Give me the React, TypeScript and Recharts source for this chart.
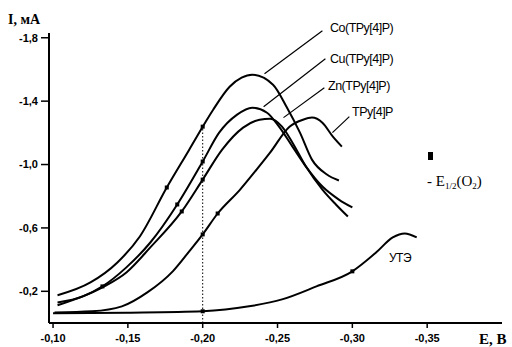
import React from "react";
import { LineChart, Line, XAxis, YAxis, ReferenceLine } from "recharts";

// potential E, V (negative) and current I, mA (negative)
const coE = [-0.103, -0.125, -0.143, -0.158, -0.176, -0.191, -0.2, -0.207, -0.218, -0.226, -0.233, -0.247, -0.256, -0.265, -0.273, -0.283, -0.291];
const coI = [-0.175, -0.256, -0.382, -0.546, -0.855, -1.094, -1.239, -1.346, -1.491, -1.548, -1.567, -1.504, -1.365, -1.201, -1.031, -0.937, -0.899];
const coMarks = [-0.176, -0.2];

const cuE = [-0.103, -0.12, -0.133, -0.149, -0.165, -0.183, -0.2, -0.211, -0.223, -0.233, -0.243, -0.251, -0.26, -0.269, -0.28, -0.291, -0.3];
const cuI = [-0.13, -0.168, -0.231, -0.351, -0.508, -0.748, -1.019, -1.201, -1.315, -1.359, -1.327, -1.239, -1.113, -0.987, -0.861, -0.779, -0.729];
const cuMarks = [-0.133, -0.183, -0.2];

const znE = [-0.103, -0.133, -0.149, -0.165, -0.186, -0.2, -0.213, -0.227, -0.238, -0.245, -0.253, -0.26, -0.269, -0.28, -0.289, -0.297];
const znI = [-0.112, -0.225, -0.319, -0.477, -0.704, -0.905, -1.094, -1.233, -1.283, -1.289, -1.239, -1.138, -0.987, -0.842, -0.748, -0.672];
const znMarks = [-0.186, -0.2];

const tpyE = [-0.101, -0.126, -0.146, -0.163, -0.18, -0.191, -0.2, -0.21, -0.225, -0.236, -0.245, -0.258, -0.267, -0.273, -0.28, -0.287, -0.293];
const tpyI = [-0.067, -0.074, -0.105, -0.193, -0.326, -0.452, -0.559, -0.691, -0.842, -0.968, -1.075, -1.239, -1.283, -1.296, -1.264, -1.176, -1.113];
const tpyMarks = [-0.2, -0.21];

const uteE = [-0.1, -0.15, -0.2, -0.231, -0.253, -0.276, -0.3, -0.316, -0.327, -0.335, -0.343];
const uteI = [-0.061, -0.065, -0.074, -0.105, -0.149, -0.231, -0.326, -0.446, -0.54, -0.565, -0.54];
const uteMarks = [-0.2, -0.3];

const eTicks = [-0.1, -0.15, -0.2, -0.25, -0.3, -0.35];
const iTicks = [-1.8, -1.4, -1.0, -0.6, -0.2];

const zip = (e: number[], i: number[]) => e.map((v, k) => ({ e: v, i: i[k] }));

const renderDot = (marks: number[]) => (props: any) => {
  const { cx, cy, payload, index } = props;
  if (!marks.includes(payload.e)) return <g key={"d" + index} />;
  return <rect key={"d" + index} x={cx - 2} y={cy - 2} width={4} height={4} fill="#000" />;
};

const tickFont = { fill: "#000", fontSize: 11, fontWeight: 700, fontFamily: "Liberation Sans, Arial" };
const labelFont = { fontFamily: "Liberation Sans, Arial", fontSize: 12.5, letterSpacing: -0.5, fill: "#000" };
const serif = { fontFamily: "Liberation Serif, Times New Roman", fill: "#000" };

export default function App() {
  const series = [
    { data: zip(coE, coI), marks: coMarks },
    { data: zip(cuE, cuI), marks: cuMarks },
    { data: zip(znE, znI), marks: znMarks },
    { data: zip(tpyE, tpyI), marks: tpyMarks },
    { data: zip(uteE, uteI), marks: uteMarks },
  ];

  return (
    <div style={{ position: "absolute", left: 0, top: 0, width: 512, height: 347, background: "#fff" }}>
      <LineChart width={512} height={347} margin={{ top: 33, right: 10, bottom: 0, left: 0 }}>
        <XAxis
          type="number"
          dataKey="e"
          domain={[-0.4, -0.0973]}
          reversed
          allowDataOverflow
          ticks={eTicks}
          tickFormatter={(v: number) => v.toFixed(2).replace(".", ",")}
          axisLine={{ stroke: "#000", strokeWidth: 2 }}
          tickLine={{ stroke: "#000", strokeWidth: 1.5 }}
          tickSize={5}
          tickMargin={6}
          tick={tickFont}
          height={24}
        />
        <YAxis
          type="number"
          domain={[-1.83, 0]}
          reversed
          allowDataOverflow
          ticks={iTicks}
          tickFormatter={(v: number) => v.toFixed(1).replace(".", ",")}
          axisLine={{ stroke: "#000", strokeWidth: 2 }}
          tickLine={{ stroke: "#000", strokeWidth: 1.5 }}
          tickSize={8}
          tickMargin={3}
          tick={tickFont}
          width={49}
        />
        <ReferenceLine
          segment={[{ x: -0.2, y: 0 }, { x: -0.2, y: coI[6] }]}
          stroke="#000"
          strokeWidth={1}
          strokeDasharray="1.5 2"
          ifOverflow="visible"
        />
        <ReferenceLine segment={[{ x: -0.28, y: -1.844 }, { x: -0.2413, y: -1.573 }]} stroke="#000" strokeWidth={1.2} ifOverflow="visible" />
        <ReferenceLine segment={[{ x: -0.282, y: -1.668 }, { x: -0.2407, y: -1.365 }]} stroke="#000" strokeWidth={1.2} ifOverflow="visible" />
        <ReferenceLine segment={[{ x: -0.2813, y: -1.485 }, { x: -0.254, y: -1.296 }]} stroke="#000" strokeWidth={1.2} ifOverflow="visible" />
        <ReferenceLine segment={[{ x: -0.298, y: -1.302 }, { x: -0.2867, y: -1.201 }]} stroke="#000" strokeWidth={1.2} ifOverflow="visible" />
        {series.map((s, k) => (
          <Line
            key={k}
            data={s.data}
            dataKey="i"
            type="monotone"
            stroke="#000"
            strokeWidth={2}
            dot={renderDot(s.marks)}
            activeDot={false}
            isAnimationActive={false}
          />
        ))}
      </LineChart>
      <svg width={512} height={347} style={{ position: "absolute", left: 0, top: 0, pointerEvents: "none" }}>
        <text x={330} y={32} {...labelFont}>Co(TPy[4]P)</text>
        <text x={330} y={63} {...labelFont}>Cu(TPy[4]P)</text>
        <text x={328} y={90} {...labelFont}>Zn(TPy[4]P)</text>
        <text x={352} y={116} {...labelFont}>TPy[4]P</text>
        <text x={389} y={262} {...labelFont} fontSize={12}>УТЭ</text>
        <text x={8} y={24} {...serif} fontSize={14} fontWeight={700}>I, мА</text>
        <text x={479} y={344} {...serif} fontSize={15} fontWeight={700}>E, B</text>
        <rect x={428} y={152} width={5} height={8} fill="#000" />
        <text x={427} y={186} {...serif} fontSize={15}>
          - E<tspan fontSize={9} dy={3}>1/2</tspan>
          <tspan dy={-3}>(O</tspan>
          <tspan fontSize={9} dy={3}>2</tspan>
          <tspan dy={-3}>)</tspan>
        </text>
      </svg>
    </div>
  );
}
